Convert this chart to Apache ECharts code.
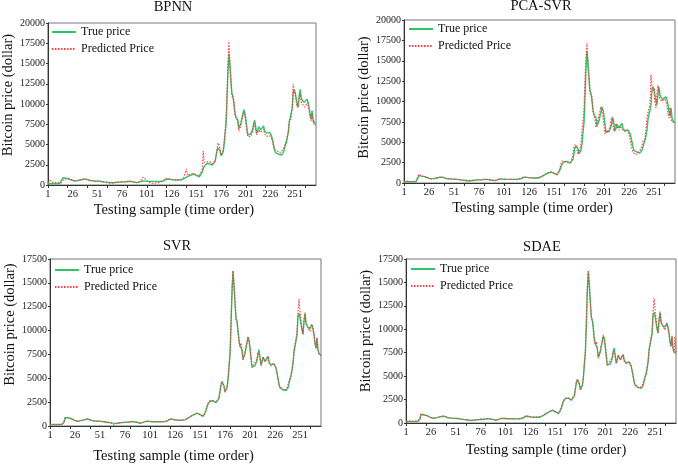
<!DOCTYPE html>
<html><head><meta charset="utf-8">
<script src="https://cdn.jsdelivr.net/npm/echarts@6/dist/echarts.min.js"></script>
<style>html,body{margin:0;padding:0;background:#fff}#c{width:678px;height:465px}</style>
</head><body><div id="c"></div>
<script>
// True bitcoin price (shared by the four panels)
const trueP = [
150,140,150,160,150,140,150,160,170,150,
160,170,180,250,400,900,950,880,850,820,
800,780,760,700,620,560,520,500,480,500,
540,580,600,620,650,680,700,720,740,700,
640,580,560,540,530,520,510,500,490,500,
490,480,460,450,440,420,400,390,380,370,
350,330,310,300,290,280,270,280,300,310,
330,340,350,360,370,380,390,380,380,400,
420,440,450,460,450,440,420,390,350,310,
290,280,320,380,430,470,490,500,490,480,
470,460,450,440,440,450,450,440,450,460,
450,440,440,450,460,450,460,500,580,660,
720,740,720,690,660,640,630,620,620,610,
600,610,620,620,630,640,680,760,820,880,
950,1020,1080,1150,1200,1250,1300,1350,1320,1280,
1200,1120,1050,1000,1050,1200,1600,2000,2300,2500,
2600,2650,2600,2650,2600,2500,2450,2400,2500,2900,
3600,4300,4600,4500,4200,3600,3500,4000,4800,6200,
7400,10500,14000,16200,14800,13000,11300,11000,10800,9000,
8400,8600,8000,7000,6900,7600,8200,8700,9300,9000,
8200,7200,6200,6100,6400,6300,6500,6900,7600,8000,
7200,6400,6700,7200,7000,6800,6600,6900,7300,6700,
6500,6400,6300,6400,6500,6400,6100,5600,5000,4400,
4000,3900,3850,3800,3700,3650,3700,3900,4000,4100,
4900,5200,5300,6500,7800,7900,8000,9500,11500,11800,
11400,11600,10000,9600,11000,11800,10800,10500,10400,10200,
10000,10400,10600,10200,9600,8700,8200,9200,8000,7600,
7500,7400];

const bpnnPred = [
300,450,600,500,350,250,400,300,200,350,
300,250,300,220,280,450,700,850,800,760,
720,700,680,650,620,560,520,480,500,520,
560,600,640,660,700,720,760,780,800,760,
700,640,600,560,540,520,500,480,470,460,
480,500,480,460,430,400,380,350,330,300,
280,250,230,220,210,240,260,300,320,340,
350,360,380,390,400,380,350,360,400,430,
450,460,470,460,440,430,400,380,300,260,
250,300,400,500,600,800,950,1000,900,700,
500,400,300,250,220,200,200,210,230,250,
260,270,280,300,350,420,500,620,700,780,
820,840,800,760,720,700,680,660,640,650,
660,650,640,660,680,700,760,820,900,1000,
2000,1200,1150,1200,1300,1350,1400,1420,1400,1350,
1300,1200,1150,1100,1100,1250,2000,4200,2800,2900,
2900,2850,2800,2900,2850,2750,2600,2550,2600,3000,
3600,4500,5200,5000,4500,3700,3600,4200,5200,6500,
7800,11000,15000,17700,15000,12500,11000,10800,10500,8500,
8300,8200,7600,6700,6700,7300,7900,8500,9000,8700,
7800,6800,6000,5800,6000,6000,6200,6600,7200,7600,
6800,6200,6400,6800,6600,6500,6300,6500,6900,6300,
6100,6000,5900,6000,6100,6000,5800,5400,4800,4400,
4300,4200,4200,4100,4000,3950,4100,4300,4500,4700,
5200,5600,5800,6600,7800,8000,8200,9800,12500,11600,
11000,11000,9600,9400,10600,11200,10300,10000,9900,9800,
9600,9900,10200,9800,9200,8400,7900,8800,8200,7700,
7900,8000];

const pcaSvrPred = [
100,200,150,250,100,200,150,100,250,150,
200,150,200,200,300,1100,900,850,820,800,
780,760,720,650,580,540,500,480,500,540,
580,600,620,650,680,700,720,740,720,660,
600,570,550,540,530,520,500,500,490,480,
470,460,450,430,410,400,380,370,350,330,
300,260,220,300,280,260,320,280,330,310,
350,340,380,360,400,370,420,380,420,440,
460,440,470,420,400,360,300,330,280,350,
300,320,300,380,450,480,510,500,490,470,
460,460,440,450,430,460,440,450,470,440,
460,430,460,440,470,480,560,650,800,700,
750,720,700,670,650,640,630,620,610,620,
600,620,640,620,650,660,700,780,840,900,
980,1050,1100,1180,1230,1280,1330,1360,1300,1250,
1180,1100,1030,1000,1100,1400,1900,2400,2700,2600,
2700,2600,2650,2550,2500,2450,2350,2550,3000,3700,
4400,4700,4500,4100,3500,3500,4100,4900,6500,7500,
9000,13000,15500,17200,14000,12500,11000,10900,10600,8700,
8700,7800,6800,7000,7800,8300,8800,9400,8900,8100,
7000,6000,6000,6500,6200,6600,7000,7700,8100,7000,
6300,6800,7300,6900,6700,6500,7000,7200,6600,6400,
6300,6200,6300,6500,6300,6000,5400,4800,4200,3800,
3600,3500,3400,3500,3600,3800,4000,4200,4500,5100,
5300,5400,6600,8000,8000,8200,9800,13300,11900,11300,
11700,9800,9200,11100,12000,10700,10300,10200,10000,9900,
10500,10700,10000,9400,8500,8000,9300,7800,7500,7400,
7300,7400];

const svrPred = [
100,150,140,150,170,160,140,150,170,160,
160,180,180,200,300,600,900,960,870,840,
810,790,770,740,680,600,540,510,490,500,
540,580,610,630,650,680,710,730,760,720,
660,600,570,550,540,530,520,510,500,500,
490,480,470,450,440,430,410,390,380,360,
340,310,260,150,100,200,260,300,310,330,
350,360,370,380,400,410,420,440,450,430,
450,460,480,470,460,450,430,400,360,300,
280,300,350,400,450,480,500,510,500,480,
470,460,450,440,440,450,460,440,450,460,
460,440,440,450,470,450,470,560,650,730,
780,760,720,690,660,640,630,620,620,610,
600,610,620,630,640,650,700,780,850,900,
970,1040,1100,1160,1220,1270,1330,1360,1330,1280,
1200,1120,1050,1000,1100,1300,1700,2100,2400,2550,
2650,2700,2650,2650,2600,2500,2450,2400,2600,3000,
3700,4400,4700,4500,4200,3500,3400,4000,4900,6400,
7600,10600,14500,16300,14700,12900,11200,10900,10700,8800,
8300,8700,7900,6900,6900,7700,8300,8800,9400,8900,
8100,7100,6100,6100,6500,6300,6600,7000,7700,7900,
7100,6300,6800,7300,7000,6700,6500,7000,7300,6600,
6400,6300,6200,6400,6600,6300,6000,5500,4900,4300,
4100,4000,3900,3800,3700,3650,3750,4000,4100,4200,
5000,5300,5400,6600,7900,8000,8100,9800,12000,13300,
12000,11900,10300,9600,11000,11900,10700,10500,10300,10100,
9900,10400,10700,10100,9500,8600,8100,9300,7900,7500,
7500,7400];

const sdaePred = [
200,220,200,210,200,190,200,210,230,220,
220,240,250,300,500,1000,950,900,860,830,
800,780,740,690,620,580,540,520,500,520,
560,600,630,650,680,710,730,750,760,730,
660,600,580,560,550,540,530,520,510,500,
500,490,480,460,450,430,410,400,390,380,
360,340,320,310,300,290,290,300,330,340,
350,370,380,390,400,410,420,430,420,440,
460,470,480,480,460,440,420,380,330,290,
270,290,350,410,460,490,510,520,500,490,
480,470,460,450,450,460,470,460,460,470,
460,450,450,460,470,470,480,540,620,700,
760,780,750,710,680,660,640,630,630,620,
610,620,630,640,640,660,700,790,850,910,
980,1050,1110,1170,1230,1280,1330,1370,1340,1290,
1210,1130,1060,1020,1100,1300,1700,2100,2400,2550,
2650,2700,2650,2650,2600,2500,2450,2400,2600,3000,
3700,4400,4700,4500,4100,3500,3400,4000,4900,6400,
7600,10700,14600,16300,14600,12800,11300,10900,10600,8700,
8400,8700,7900,6900,6950,7700,8300,8800,9400,8900,
8100,7100,6100,6100,6500,6300,6600,7000,7700,7900,
7100,6300,6800,7300,7000,6700,6500,7000,7300,6600,
6400,6300,6200,6400,6600,6300,6000,5500,4900,4300,
4100,4000,3900,3800,3700,3650,3750,4000,4100,4200,
5000,5300,5400,6600,7900,8000,8100,9800,12000,13300,
12000,11900,10300,9600,11000,11900,10700,10500,10300,10100,
9900,10400,10700,10100,9500,8600,8100,9300,7900,7500,
9200,7400];

const panelTitles = ['BPNN', 'PCA-SVR', 'SVR', 'SDAE'];
const predictions = [bpnnPred, pcaSvrPred, svrPred, sdaePred];
const yMaxes = [20000, 20000, 17500, 17500];
const yStep = 2500;
const xLabelEvery = 25;
const xTickEvery = 20;
const seriesNames = ['True price', 'Predicted Price'];
const yName = 'Bitcoin price (dollar)';
const xName = 'Testing sample (time order)';

const samples = trueP.map((_, i) => String(i + 1));

const FONT = 'Liberation Serif';
const GREEN = '#2ec46a';
const RED = '#ff3a3a';

const layout = [
  {left: 46, top: 23, width: 270, height: 162, titleX: 173, titleY: 0, legX: 51, legY: 26, yGap: 31, yUp: 9, xGap: 18, xShift: -8},
  {left: 404, top: 20, width: 271, height: 163, titleX: 541, titleY: -1, legX: 408, legY: 23, yGap: 32, yUp: 4, xGap: 18, xShift: -7},
  {left: 50, top: 259, width: 271, height: 168, titleX: 177, titleY: 239, legX: 54, legY: 264, yGap: 28, yUp: 18, xGap: 23, xShift: -12},
  {left: 406, top: 259, width: 270, height: 164, titleX: 542, titleY: 240, legX: 410, legY: 263, yGap: 31, yUp: 10, xGap: 20, xShift: 5}
];

const option = {
  animation: false,
  backgroundColor: '#fff',
  title: [], grid: [], xAxis: [], yAxis: [], legend: [], series: []
};

layout.forEach((L, k) => {
  option.title.push({
    text: panelTitles[k], left: L.titleX, top: L.titleY, textAlign: 'center', padding: 0,
    textStyle: {fontFamily: FONT, fontWeight: 'normal', fontSize: 14.5, color: '#111'}
  });
  option.grid.push({
    left: L.left, top: L.top, width: L.width, height: L.height,
    show: true, borderColor: '#777', borderWidth: 1, backgroundColor: 'transparent'
  });
  option.xAxis.push({
    type: 'category', gridIndex: k, data: samples, boundaryGap: false,
    name: xName, nameLocation: 'middle', nameGap: L.xGap,
    nameTextStyle: {fontFamily: FONT, fontSize: 14.5, color: '#111',
      padding: L.xShift < 0 ? [0, -2 * L.xShift, 0, 0] : [0, 0, 0, 2 * L.xShift]},
    axisLine: {lineStyle: {color: '#333', width: 1}},
    axisTick: {show: true, interval: xTickEvery - 1, length: 3, lineStyle: {color: '#333'}},
    axisLabel: {interval: xLabelEvery - 1, margin: 4, fontFamily: FONT, fontSize: 10.5, color: '#222'},
    splitLine: {show: false}
  });
  option.yAxis.push({
    type: 'value', gridIndex: k, min: 0, max: yMaxes[k], interval: yStep,
    name: yName, nameLocation: 'middle', nameGap: L.yGap,
    nameTextStyle: {fontFamily: FONT, fontSize: 14.5, color: '#111', padding: [0, 0, 0, 2 * L.yUp]},
    axisLine: {show: true, lineStyle: {color: '#333', width: 1}},
    axisTick: {show: true, length: 2, lineStyle: {color: '#333'}},
    axisLabel: {margin: 3, fontFamily: FONT, fontSize: 10, color: '#222', formatter: v => String(v)},
    splitLine: {show: false}
  });
  option.legend.push({
    orient: 'vertical', left: L.legX, top: L.legY, padding: 0,
    itemWidth: 24, itemHeight: 12, itemGap: 5,
    data: seriesNames,
    itemStyle: {opacity: 0},
    textStyle: {fontFamily: FONT, fontSize: 12, color: '#111'},
    selectedMode: false
  });
  option.series.push({
    name: seriesNames[0], type: 'line', xAxisIndex: k, yAxisIndex: k,
    data: trueP, symbol: 'none', lineStyle: {color: GREEN, width: 1.4}, itemStyle: {color: GREEN}
  });
  option.series.push({
    name: seriesNames[1], type: 'line', xAxisIndex: k, yAxisIndex: k,
    data: predictions[k], symbol: 'none',
    lineStyle: {color: RED, width: 1.1, type: [1.5, 1.5]}, itemStyle: {color: RED}
  });
});

const chart = echarts.init(document.getElementById('c'), null, {renderer: 'canvas'});
chart.setOption(option);
</script>
</body></html>
